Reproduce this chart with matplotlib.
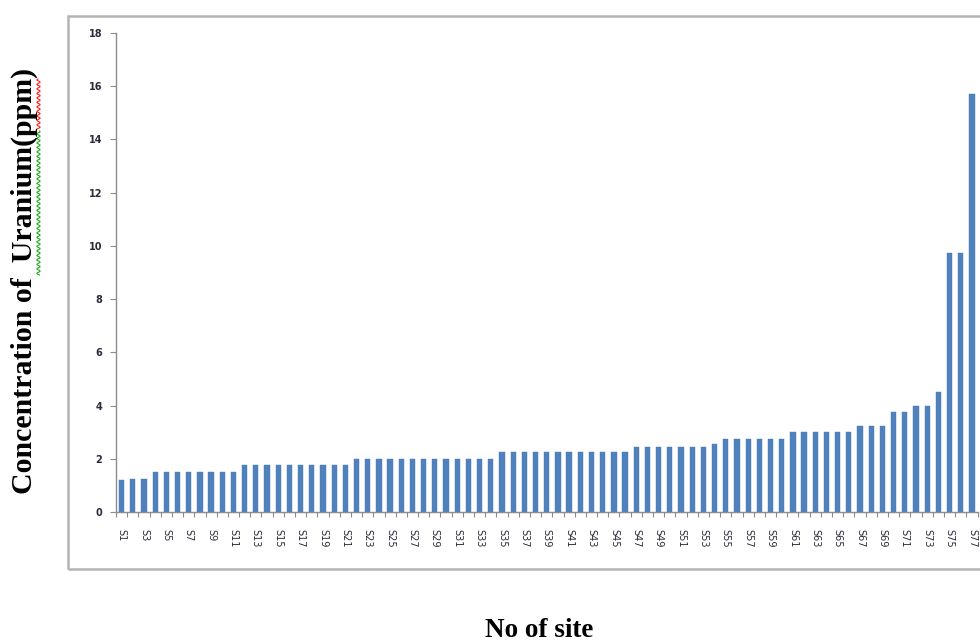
import numpy as np
import matplotlib
matplotlib.use('Agg')
import matplotlib.pyplot as plt
from matplotlib.patches import Rectangle
from matplotlib.lines import Line2D

# === DATA ===
sites = ['S%d' % i for i in range(1, 78)]
uranium = [1.2, 1.25, 1.25,
           1.5, 1.5, 1.5, 1.5, 1.5, 1.5, 1.5, 1.5,
           1.75, 1.75, 1.75, 1.75, 1.75, 1.75, 1.75, 1.75, 1.75, 1.75,
           2.0, 2.0, 2.0, 2.0, 2.0, 2.0, 2.0, 2.0, 2.0, 2.0, 2.0, 2.0, 2.0,
           2.25, 2.25, 2.25, 2.25, 2.25, 2.25, 2.25, 2.25, 2.25, 2.25, 2.25, 2.25,
           2.45, 2.45, 2.45, 2.45, 2.45, 2.45, 2.45,
           2.55,
           2.75, 2.75, 2.75, 2.75, 2.75, 2.75,
           3.0, 3.0, 3.0, 3.0, 3.0, 3.0,
           3.25, 3.25, 3.25,
           3.75, 3.75,
           4.0, 4.0,
           4.5,
           9.75, 9.75,
           15.7]
yticks = [0, 2, 4, 6, 8, 10, 12, 14, 16, 18]

W, H = 980, 642
fig = plt.figure(figsize=(W / 100, H / 100), dpi=100)

# outer chart border (right side runs off the picture)
fig.add_artist(Rectangle((68 / W, 1 - 569 / H), 960 / W, (569 - 16) / H,
                         transform=fig.transFigure, fill=False,
                         edgecolor='#b4b4b4', linewidth=1.8))

ax = fig.add_axes([116 / W, 1 - 512 / H, (977.5 - 116) / W, (512 - 33) / H])
x = np.arange(len(sites))
ax.bar(x, uranium, width=0.47, color='#4f81bd', edgecolor='#4a7ab5', linewidth=0.3)

ax.set_xlim(-0.5, len(sites) - 0.5)
ax.set_ylim(0, 18)
ax.set_yticks(yticks)
ax.set_yticklabels([str(v) for v in yticks], fontsize=7, fontweight='bold',
                   color='#2b2b3b')

# labels for every other site, ticks at the category edges
ax.set_xticks(x[::2])
ax.set_xticklabels(sites[::2], rotation=270, fontsize=7, color='#2b2b3b',
                   va='top', ha='center')
ax.set_xticks(np.arange(-0.5, len(sites), 1), minor=True)
ax.tick_params(axis='x', which='major', length=0, pad=12)
ax.tick_params(axis='x', which='minor', length=3.5, width=0.8, color='#8c8c8c')
ax.tick_params(axis='y', length=4, width=0.8, color='#8c8c8c', pad=6)

for s in ['top', 'right']:
    ax.spines[s].set_visible(False)
for s in ['left', 'bottom']:
    ax.spines[s].set_color('#8c8c8c')
    ax.spines[s].set_linewidth(1.0)

# axis titles
fig.text(24 / W, 1 - 281 / H, 'Concentration of  Uranium(ppm)', rotation=90,
         ha='center', va='center', fontsize=21.5, fontweight='bold',
         family='Liberation Serif')
fig.text(539 / W, 1 - 637 / H, 'No of site', ha='center', va='baseline',
         fontsize=19.5, fontweight='bold', family='Liberation Serif')

# spell-check squiggles under the y title
def squiggle(y0, y1, color):
    yy = np.linspace(y0, y1, int((y1 - y0) * 3))
    xx = 38.5 + 1.6 * np.sin(yy * 2 * np.pi / 4.5)
    fig.add_artist(Line2D(xx / W, 1 - yy / H, transform=fig.transFigure,
                          color=color, linewidth=0.8))

squiggle(79, 129, '#ff2020')
squiggle(131, 275, '#22aa22')

fig.savefig('out.png', dpi=100)
